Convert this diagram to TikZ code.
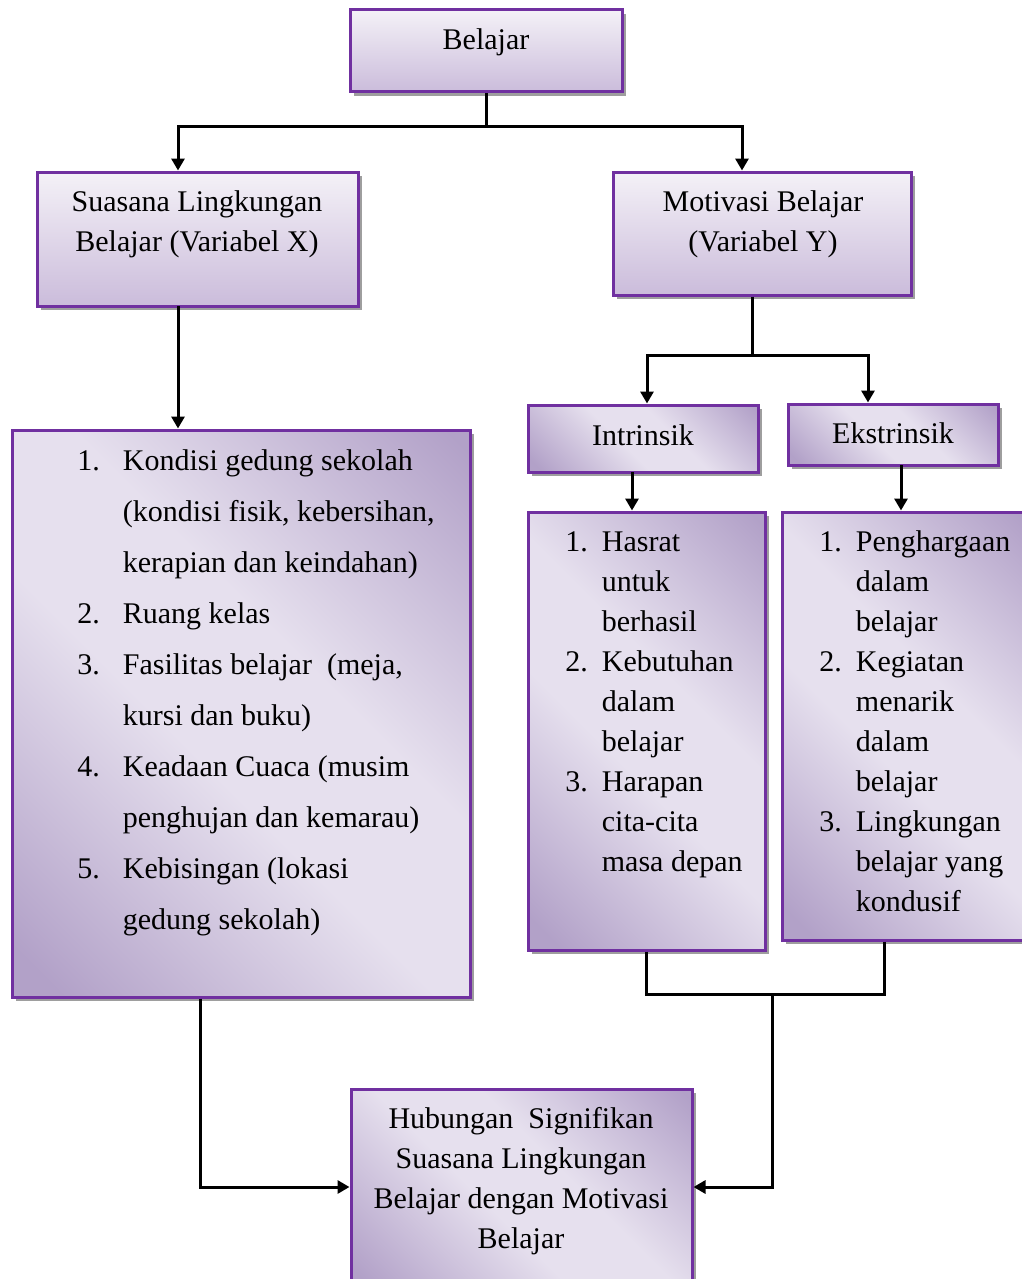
\documentclass[tikz,border=0pt]{standalone}
\usepackage{fontspec}
\setmainfont{Liberation Serif}
\usetikzlibrary{arrows.meta,fit,shadows}

\definecolor{lilacline}{HTML}{7030A0}
\definecolor{lilaclight}{HTML}{E6E0EE}
\definecolor{lilacdark}{HTML}{B2A1C8}
\definecolor{lilactop}{HTML}{F4F1F7}
\definecolor{lilacbot}{HTML}{CBBCDB}
\pgfdeclareverticalshading{lilacdiag}{100bp}{color(0bp)=(lilacdark); color(18bp)=(lilacdark); color(44bp)=(lilaclight); color(58bp)=(lilaclight); color(84bp)=(lilacdark); color(100bp)=(lilacdark)}

\tikzset{
  panel/.style={draw=lilacline, line width=1.5pt, inner sep=0pt,
    drop shadow={shadow xshift=2pt, shadow yshift=-2pt, opacity=1, fill=black!38}},
  flatpanel/.style={panel, top color=lilactop, bottom color=lilacbot},
  diagpanel/.style={panel, shading=lilacdiag, shading angle=-45},
  link/.style={line width=1.5pt},
  arr/.style={link, -{Triangle[width=6.5pt,length=6pt]}},
  txt/.style={font=\fontsize{15}{20}\selectfont, inner sep=0pt, anchor=base},
  listtxt/.style={font=\fontsize{15}{20}\selectfont, inner sep=0pt, anchor=base west},
}

\begin{document}
\begin{tikzpicture}[x=0.5pt,y=-0.5pt]
  \useasboundingbox (0,0) rectangle (1022,1279);

  % boxes
  \node[flatpanel, fit={(350,10) (622,92)}] (belajar) {};
  \node[flatpanel, fit={(37,172) (358,306)}] (suasana) {};
  \node[flatpanel, fit={(613,172) (911,295)}] (motivasi) {};
  \node[diagpanel, fit={(528,405) (758,472)}] (intrinsik) {};
  \node[diagpanel, fit={(788,404) (998,465)}] (ekstrinsik) {};
  \node[diagpanel, fit={(12,430) (470,997)}] (listx) {};
  \node[diagpanel, fit={(528,512) (765,950)}] (listin) {};
  \node[diagpanel, fit={(782,512) (1030,940)}] (listek) {};
  \node[diagpanel, fit={(351,1089) (692,1295)}] (hubungan) {};

  % texts
  \node[txt] (tbelajar) at (486,50) {Belajar};
  \node[txt] (tsuasana) at (197,211) {\begin{tabular}[t]{@{}c@{}}Suasana Lingkungan\\Belajar (Variabel X)\end{tabular}};
  \node[txt] (tmotivasi) at (763,211) {\begin{tabular}[t]{@{}c@{}}Motivasi Belajar\\(Variabel Y)\end{tabular}};
  \node[txt] (tintrinsik) at (643,445) {Intrinsik};
  \node[txt] (tekstrinsik) at (893,443) {Ekstrinsik};
  \node[txt] (thubungan) at (521,1128) {\begin{tabular}[t]{@{}c@{}}Hubungan~ Signifikan\\Suasana Lingkungan\\Belajar dengan Motivasi\\Belajar\end{tabular}};

  \node[listtxt, font=\fontsize{15}{25.5}\selectfont] (itemsx) at (77,470) {%
    \begin{tabular}[t]{@{}l@{\hspace{11.5pt}}l@{}}
      1. & Kondisi gedung sekolah\\
         & (kondisi fisik, kebersihan,\\
         & kerapian dan keindahan)\\
      2. & Ruang kelas\\
      3. & Fasilitas belajar~ (meja,\\
         & kursi dan buku)\\
      4. & Keadaan Cuaca (musim\\
         & penghujan dan kemarau)\\
      5. & Kebisingan (lokasi\\
         & gedung sekolah)
    \end{tabular}};
  \node[listtxt] (itemsin) at (565,551) {%
    \begin{tabular}[t]{@{}l@{\hspace{7pt}}l@{}}
      1. & Hasrat\\
         & untuk\\
         & berhasil\\
      2. & Kebutuhan\\
         & dalam\\
         & belajar\\
      3. & Harapan\\
         & cita-cita\\
         & masa depan
    \end{tabular}};
  \node[listtxt] (itemsek) at (819,551) {%
    \begin{tabular}[t]{@{}l@{\hspace{7pt}}l@{}}
      1. & Penghargaan\\
         & dalam\\
         & belajar\\
      2. & Kegiatan\\
         & menarik\\
         & dalam\\
         & belajar\\
      3. & Lingkungan\\
         & belajar yang\\
         & kondusif
    \end{tabular}};

  % connectors
  \coordinate (top) at (486,127);
  \coordinate (topl) at (178,127);
  \coordinate (topr) at (742,127);
  \draw[link] (belajar.south) -- (top);
  \draw[arr] (top) -- (topl) -- (topl |- suasana.north);
  \draw[arr] (top) -- (topr) -- (topr |- motivasi.north);

  \coordinate (xdown) at (178,306);
  \draw[arr] (xdown) -- (xdown |- listx.north);

  \coordinate (mid) at (752,355);
  \coordinate (midl) at (647,355);
  \coordinate (midr) at (868,355);
  \draw[link] (mid |- motivasi.south) -- (mid);
  \draw[arr] (mid) -- (midl) -- (midl |- intrinsik.north);
  \draw[arr] (mid) -- (midr) -- (midr |- ekstrinsik.north);

  \coordinate (indown) at (632,472);
  \coordinate (ekdown) at (901,465);
  \draw[arr] (indown) -- (indown |- listin.north);
  \draw[arr] (ekdown) -- (ekdown |- listek.north);

  \coordinate (joinl) at (646,994);
  \coordinate (joinr) at (884,994);
  \coordinate (joinm) at (772,994);
  \coordinate (hubr) at (772,1187);
  \draw[link] (joinl |- listin.south) -- (joinl) -- (joinr) -- (joinr |- listek.south);
  \draw[arr] (joinm) -- (hubr) -- (hubr -| hubungan.east);

  \coordinate (xl) at (200,1187);
  \draw[arr] (xl |- listx.south) -- (xl) -- (xl -| hubungan.west);
\end{tikzpicture}
\end{document}
